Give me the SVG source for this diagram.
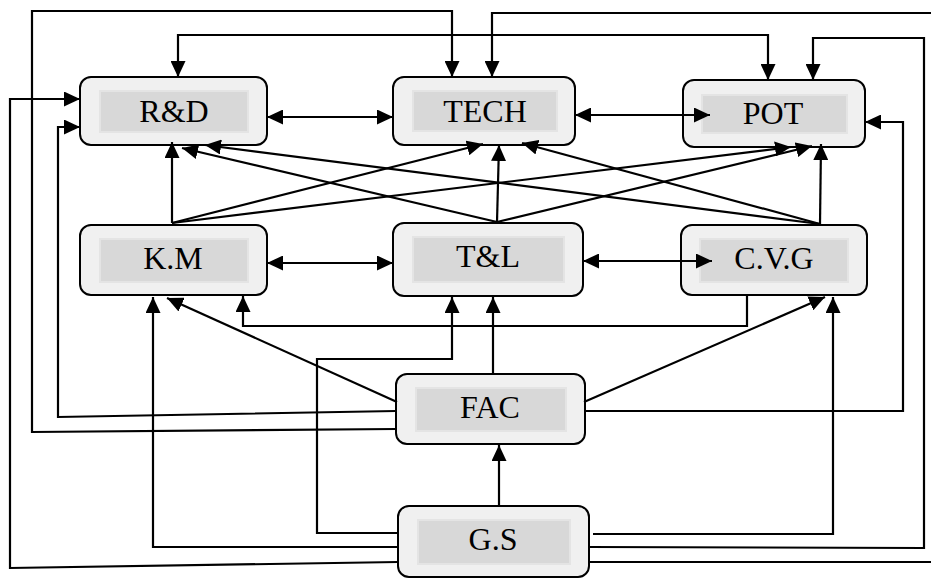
<svg xmlns="http://www.w3.org/2000/svg" width="931" height="578" viewBox="0 0 931 578">
<defs>
<marker id="ah" markerUnits="userSpaceOnUse" markerWidth="17" markerHeight="15" refX="16" refY="7.5" orient="auto-start-reverse">
<path d="M0,0 L16,7.5 L0,15 z" fill="#000"/>
</marker>
<style>
.outer{fill:#f0f0f0;stroke:#000;stroke-width:2}
.inner{fill:#d8d8d8;stroke:#e4e4e4;stroke-width:2}
.lbl{font-family:"Liberation Serif","Times New Roman",serif;font-size:32px;fill:#000;text-anchor:middle}
.c{fill:none;stroke:#000;stroke-width:2.2}
.a{marker-end:url(#ah)}
.b{marker-start:url(#ah);marker-end:url(#ah)}
</style>
</defs>
<rect width="931" height="578" fill="#fff"/>
<g id="rd">
<rect class="outer" x="80" y="77" width="187" height="68" rx="11"/>
<rect class="inner" x="100" y="91" width="148" height="41"/>
<text class="lbl" x="174" y="122">R&amp;D</text>
</g>
<g id="tech">
<rect class="outer" x="393" y="77" width="182" height="68" rx="11"/>
<rect class="inner" x="413" y="91" width="144" height="40"/>
<text class="lbl" x="485" y="122">TECH</text>
</g>
<g id="pot">
<rect class="outer" x="683" y="80" width="182" height="67" rx="11"/>
<rect class="inner" x="702" y="95" width="145" height="38"/>
<text class="lbl" x="773" y="124">POT</text>
</g>
<g id="km">
<rect class="outer" x="80" y="225" width="187" height="70" rx="11"/>
<rect class="inner" x="100" y="239" width="148" height="43"/>
<text class="lbl" x="173" y="269">K.M</text>
</g>
<g id="tl">
<rect class="outer" x="393" y="223" width="190" height="73" rx="11"/>
<rect class="inner" x="413" y="237" width="151" height="45"/>
<text class="lbl" x="488" y="267">T&amp;L</text>
</g>
<g id="cvg">
<rect class="outer" x="681" y="225" width="186" height="70" rx="11"/>
<rect class="inner" x="700" y="239" width="148" height="43"/>
<text class="lbl" x="774" y="269">C.V.G</text>
</g>
<g id="fac">
<rect class="outer" x="396" y="374" width="189" height="70" rx="11"/>
<rect class="inner" x="416" y="388" width="150" height="43"/>
<text class="lbl" x="490" y="418">FAC</text>
</g>
<g id="gs">
<rect class="outer" x="398" y="506" width="191" height="71" rx="11"/>
<rect class="inner" x="418" y="520" width="152" height="44"/>
<text class="lbl" x="493" y="550">G.S</text>
</g>
<g id="connectors">
<path class="c a" d="M396,429 L32,432 L32,11 L452,11 L452,77"/>
<path class="c b" d="M178,77 L178,35 L768,35 L768,80"/>
<path class="c a" d="M589,562 L933,562 L933,13 L492,13 L492,77"/>
<path class="c a" d="M589,547 L924,548 L924,38 L813,38 L813,80"/>
<path class="c a" d="M585,411 L903,411 L903,122 L865,122"/>
<path class="c a" d="M398,562 L10,568 L10,99 L80,99"/>
<path class="c a" d="M396,411 L58,417 L58,127 L80,127"/>
<path class="c b" d="M267,117 L393,117"/>
<path class="c b" d="M575,115 L710,115"/>
<path class="c b" d="M267,263 L393,263"/>
<path class="c b" d="M583,261 L712,261"/>
<path class="c a" d="M172,223 L172,142"/>
<path class="c a" d="M172,223 L483,144"/>
<path class="c a" d="M172,223 L791,147"/>
<path class="c a" d="M497,222 L182,148"/>
<path class="c a" d="M497,222 L499,145"/>
<path class="c a" d="M497,222 L812,146"/>
<path class="c a" d="M820,224 L205,145"/>
<path class="c a" d="M820,224 L522,143"/>
<path class="c a" d="M820,224 L821,144"/>
<path class="c a" d="M747,295 L747,326 L243,326 L243,296"/>
<path class="c a" d="M397,402 L167,298"/>
<path class="c a" d="M398,547 L153,547 L153,297"/>
<path class="c a" d="M398,533 L317,533 L317,359 L452,359 L452,297"/>
<path class="c a" d="M493,374 L493,297"/>
<path class="c a" d="M584,402 L825,297"/>
<path class="c a" d="M593,534 L833,534 L833,297"/>
<path class="c a" d="M499,506 L499,445"/>
</g>
</svg>
